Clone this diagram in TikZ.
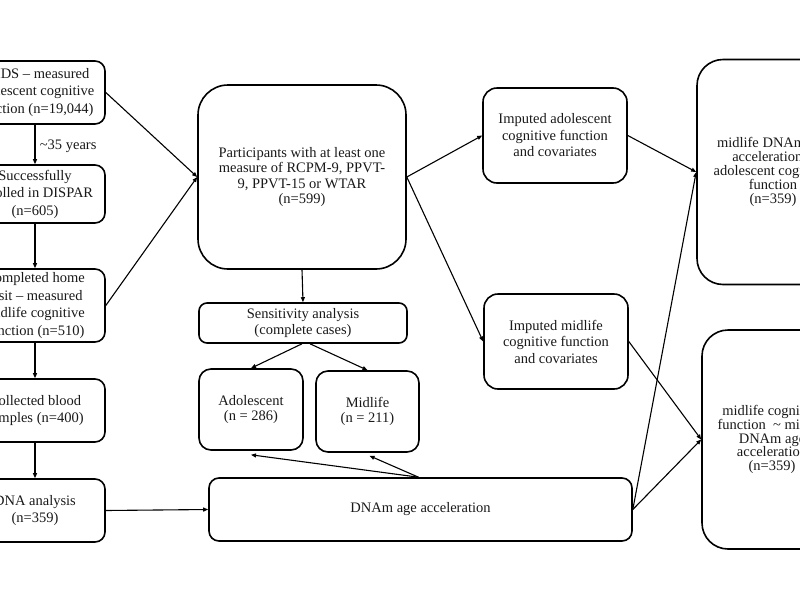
\documentclass[tikz,border=0pt]{standalone}
\usepackage{fontspec}
\setmainfont{Liberation Serif}
\usetikzlibrary{arrows.meta}
\begin{document}
\begin{tikzpicture}[x=1pt,y=-1pt,
 box/.style={draw, line width=1.6pt, align=center, inner sep=0pt, text=black!90},
 leftbox/.style={box, rounded corners=10pt, minimum width=140pt, font=\fontsize{14.5}{17.5}\selectfont},
 midbox/.style={box, font=\fontsize{14.5}{15.5}\selectfont},
 impbox/.style={box, rounded corners=14pt, minimum width=144pt, minimum height=95pt, font=\fontsize{14.5}{16.5}\selectfont},
 rightbox/.style={box, rounded corners=26pt, font=\fontsize{14.5}{13.8}\selectfont},
 arr/.style={-{Triangle[length=5pt,width=4pt]}, line width=1.1pt},
]
\useasboundingbox (0,0) rectangle (800,600);
\clip (0,0) rectangle (800,600);
% left column
\node[leftbox, minimum height=63pt] (b1) at (35,92.5) {CHDS -- measured\\adolescent cognitive\\function (n=19,044)};
\node[leftbox, minimum height=58pt] (b2) at (35,194) {Successfully\\enrolled in DISPAR\\(n=605)};
\node[leftbox, minimum height=73pt] (b3) at (35,305.5) {Completed home\\visit -- measured\\midlife cognitive\\function (n=510)};
\node[leftbox, minimum height=63pt] (b4) at (35,410.5) {Collected blood\\samples (n=400)};
\node[leftbox, minimum height=63pt] (b5) at (35,510.5) {DNA analysis\\(n=359)};
% middle
\node[midbox, rounded corners=30pt, minimum width=208pt, minimum height=184pt] (part) at (302,177) {Participants with at least one\\measure of RCPM-9, PPVT-\\9, PPVT-15 or WTAR\\(n=599)};
\node[midbox, rounded corners=8pt, minimum width=208pt, minimum height=40pt] (sens) at (303,323) {Sensitivity analysis\\(complete cases)};
\node[midbox, rounded corners=12pt, minimum width=104pt, minimum height=81pt] (adol) at (251,409.5) {Adolescent\\(n = 286)};
\node[midbox, rounded corners=12pt, minimum width=103pt, minimum height=81pt] (mid) at (367.5,411.5) {Midlife\\(n = 211)};
\node[midbox, rounded corners=10pt, minimum width=423pt, minimum height=63pt] (dnam) at (420.5,509.5) {DNAm age acceleration};
% imputed
\node[impbox] (impA) at (555,135.5) {Imputed adolescent\\cognitive function\\and covariates};
\node[impbox] (impM) at (556,341.5) {Imputed midlife\\cognitive function\\and covariates};
% right column
\node[rightbox, minimum width=152pt, minimum height=225pt] (r1) at (773,172) {midlife DNAm age\\acceleration \textasciitilde\\adolescent cognitive\\function\\(n=359)};
\node[rightbox, minimum width=140pt, minimum height=219pt] (r2) at (772,439.5) {midlife cognitive\\function \ \textasciitilde\ midlife\\DNAm age\\acceleration\\(n=359)};
% connectors
\draw[arr] (b1.south) -- node[right, font=\fontsize{14.5}{16}\selectfont, text=black!90, xshift=1pt, yshift=-2pt] {\textasciitilde35 years} (b2.north);
\draw[arr] (b2) -- (b3);
\draw[arr] (b3) -- (b4);
\draw[arr] (b4) -- (b5);
\draw[arr] (b1.east) -- (part.west);
\draw[arr] (b3.east) -- (part.west);
\draw[arr] (b5.east) -- (dnam.west);
\draw[arr] (part.south) -- (sens.north);
\draw[arr] ([xshift=-1pt]sens.south) -- (adol.north);
\draw[arr] ([xshift=7pt]sens.south) -- (mid.north);
\draw[arr] ([xshift=-2pt]dnam.north) -- ([yshift=-4pt]adol.south);
\draw[arr] ([xshift=-2pt]dnam.north) -- ([xshift=2pt,yshift=-3pt]mid.south);
\draw[arr] (part.east) -- (impA.west);
\draw[arr] (part.east) -- (impM.west);
\draw[arr] (impA.east) -- (r1.west);
\draw[arr] (impM.east) -- (r2.west);
\draw[arr] (dnam.east) -- (r1.west);
\draw[arr] (dnam.east) -- (r2.west);
\end{tikzpicture}
\end{document}
